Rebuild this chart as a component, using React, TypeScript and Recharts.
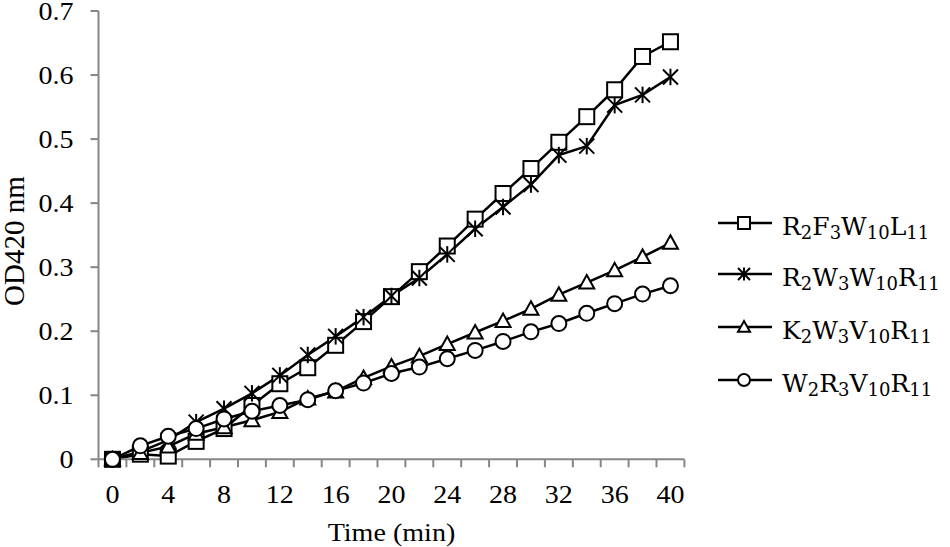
import React from 'react';
import { LineChart, Line, XAxis, YAxis, Legend } from 'recharts';

const times = [0, 2, 4, 6, 8, 10, 12, 14, 16, 18, 20, 22, 24, 26, 28, 30, 32, 34, 36, 38, 40];
const sR2F3W10L11 = [0, 0.008, 0.005, 0.028, 0.048, 0.084, 0.118, 0.143, 0.178, 0.215, 0.254, 0.293, 0.333, 0.375, 0.415, 0.454, 0.495, 0.535, 0.577, 0.629, 0.652];
const sR2W3W10R11 = [0, 0.012, 0.03, 0.058, 0.079, 0.103, 0.131, 0.163, 0.192, 0.222, 0.255, 0.283, 0.32, 0.36, 0.394, 0.429, 0.475, 0.489, 0.553, 0.569, 0.597];
const sK2W3V10R11 = [0, 0.01, 0.02, 0.04, 0.05, 0.061, 0.074, 0.095, 0.106, 0.127, 0.145, 0.161, 0.18, 0.198, 0.216, 0.235, 0.257, 0.276, 0.295, 0.316, 0.338];
const sW2R3V10R11 = [0, 0.021, 0.036, 0.048, 0.063, 0.075, 0.084, 0.093, 0.107, 0.119, 0.134, 0.144, 0.157, 0.17, 0.184, 0.199, 0.212, 0.228, 0.243, 0.258, 0.271];

const yTicks = [0, 0.1, 0.2, 0.3, 0.4, 0.5, 0.6, 0.7];
const xTicks = [-1, 0, 1, 3, 4, 5, 7, 8, 9, 11, 12, 13, 15, 16, 17, 19, 20, 21, 23, 24, 25, 27, 28, 29, 31, 32, 33, 35, 36, 37, 39, 40, 41];

const seriesKeys = ['a', 'b', 'c', 'd'];
const seriesShapes = ['square', 'star', 'triangle', 'circle'];
const seriesLabels: [string, string][][] = [
  [['R', '2'], ['F', '3'], ['W', '10'], ['L', '11']],
  [['R', '2'], ['W', '3'], ['W', '10'], ['R', '11']],
  [['K', '2'], ['W', '3'], ['V', '10'], ['R', '11']],
  [['W', '2'], ['R', '3'], ['V', '10'], ['R', '11']],
];

const data = times.map((t, i) => ({
  t,
  a: sR2F3W10L11[i],
  b: sR2W3W10R11[i],
  c: sK2W3V10R11[i],
  d: sW2R3V10R11[i],
}));

const FONT = "'Liberation Serif', 'Times New Roman', serif";
const LEGEND_FONT = "'DejaVu Serif', serif";
const AXIS = '#868686';
const SX = 1.12;

function Marker({ shape, cx, cy, s }: { shape: string; cx: number; cy: number; s: number }) {
  const h = s / 2;
  if (shape === 'square') {
    return <rect x={cx - h} y={cy - h} width={s} height={s} fill="#fff" stroke="#000" strokeWidth={2} />;
  }
  if (shape === 'star') {
    return (
      <g stroke="#000" strokeWidth={2}>
        <line x1={cx - h} y1={cy - h} x2={cx + h} y2={cy + h} />
        <line x1={cx - h} y1={cy + h} x2={cx + h} y2={cy - h} />
        <line x1={cx} y1={cy - h * 1.1} x2={cx} y2={cy + h * 1.1} />
      </g>
    );
  }
  if (shape === 'triangle') {
    return (
      <polygon
        points={`${cx},${cy - h} ${cx + h},${cy + h * 0.8} ${cx - h},${cy + h * 0.8}`}
        fill="#fff"
        stroke="#000"
        strokeWidth={2}
      />
    );
  }
  return <circle cx={cx} cy={cy} r={h} fill="#fff" stroke="#000" strokeWidth={2} />;
}

const XTick = (props: any) => {
  const { x, y, payload } = props;
  const v = payload.value;
  return (
    <g>
      {Math.abs(v % 2) === 1 && <line x1={x} x2={x} y1={y - 8} y2={y} stroke={AXIS} strokeWidth={2} />}
      {v % 4 === 0 && (
        <text
          transform={`translate(${x},${y + 36}) scale(${SX},1)`}
          textAnchor="middle"
          fontSize={25}
          fontFamily={FONT}
          fill="#000"
        >
          {v}
        </text>
      )}
    </g>
  );
};

const YTick = (props: any) => {
  const { x, y, payload } = props;
  return (
    <text
      transform={`translate(${x},${y}) scale(${SX},1)`}
      textAnchor="end"
      dy="0.34em"
      fontSize={25}
      fontFamily={FONT}
      fill="#000"
    >
      {payload.value}
    </text>
  );
};

const XTitle = (props: any) => {
  const vb = props.viewBox || { x: 98.5, y: 459.3, width: 585.9, height: 87.7 };
  return (
    <text
      transform={`translate(${vb.x + vb.width / 2},${vb.y + vb.height - 6}) scale(1.08,1)`}
      textAnchor="middle"
      fontSize={26}
      fontFamily={FONT}
      fill="#000"
    >
      Time (min)
    </text>
  );
};

const YTitle = (props: any) => {
  const vb = props.viewBox || { x: 0, y: 11, width: 98.5, height: 448.3 };
  const cx = vb.x + 14;
  const cy = vb.y + vb.height / 2 + 6;
  return (
    <text
      transform={`translate(${cx},${cy}) rotate(-90)`}
      textAnchor="middle"
      dy="0.34em"
      fontSize={29}
      fontFamily={FONT}
      fill="#000"
    >
      OD420 nm
    </text>
  );
};

const LegendContent = () => {
  const rows = [28, 79, 132, 185];
  return (
    <svg width={250} height={215} style={{ display: 'block' }}>
      {seriesLabels.map((parts, i) => {
        const cy = rows[i];
        return (
          <g key={i}>
            <line x1={18} x2={72} y1={cy} y2={cy} stroke="#000" strokeWidth={2.5} />
            <Marker shape={seriesShapes[i]} cx={44} cy={cy} s={12} />
            <text x={82} y={cy + 12} fontSize={25} fontFamily={LEGEND_FONT} fill="#000">
              {parts.map(([l, s], j) => (
                <React.Fragment key={j}>
                  <tspan dy={j === 0 ? 0 : -3.5}>{l}</tspan>
                  <tspan fontSize={18} dy={3.5}>{s}</tspan>
                </React.Fragment>
              ))}
            </text>
          </g>
        );
      })}
    </svg>
  );
};

export default function App() {
  return (
    <div style={{ position: 'absolute', left: 0, top: 0, width: 950, height: 547, background: '#fff' }}>
      <LineChart width={950} height={547} data={data} margin={{ top: 11, right: 265.6, bottom: 0, left: 0 }}>
        <XAxis
          dataKey="t"
          type="number"
          domain={[-1, 41]}
          ticks={xTicks}
          interval={0}
          height={87.7}
          tickSize={8}
          tickMargin={0}
          tickLine={false}
          tick={<XTick />}
          axisLine={{ stroke: AXIS, strokeWidth: 2 }}
          label={<XTitle />}
        />
        <YAxis
          type="number"
          domain={[0, 0.7]}
          ticks={yTicks}
          interval={0}
          width={98.5}
          tickSize={8}
          tickMargin={17}
          axisLine={{ stroke: AXIS, strokeWidth: 2 }}
          tickLine={{ stroke: AXIS, strokeWidth: 2 }}
          tick={<YTick />}
          label={<YTitle />}
        />
        <Legend
          layout="horizontal"
          verticalAlign="middle"
          align="center"
          wrapperStyle={{ position: 'absolute', left: 700, top: 195, width: 250, height: 215 }}
          content={<LegendContent />}
        />
        {seriesKeys.map((k, i) => (
          <Line
            key={k}
            dataKey={k}
            stroke="#000"
            strokeWidth={2.5}
            isAnimationActive={false}
            dot={(p: any) => <Marker key={`${k}-${p.index}`} shape={seriesShapes[i]} cx={p.cx} cy={p.cy} s={15} />}
            activeDot={false}
          />
        ))}
      </LineChart>
    </div>
  );
}
